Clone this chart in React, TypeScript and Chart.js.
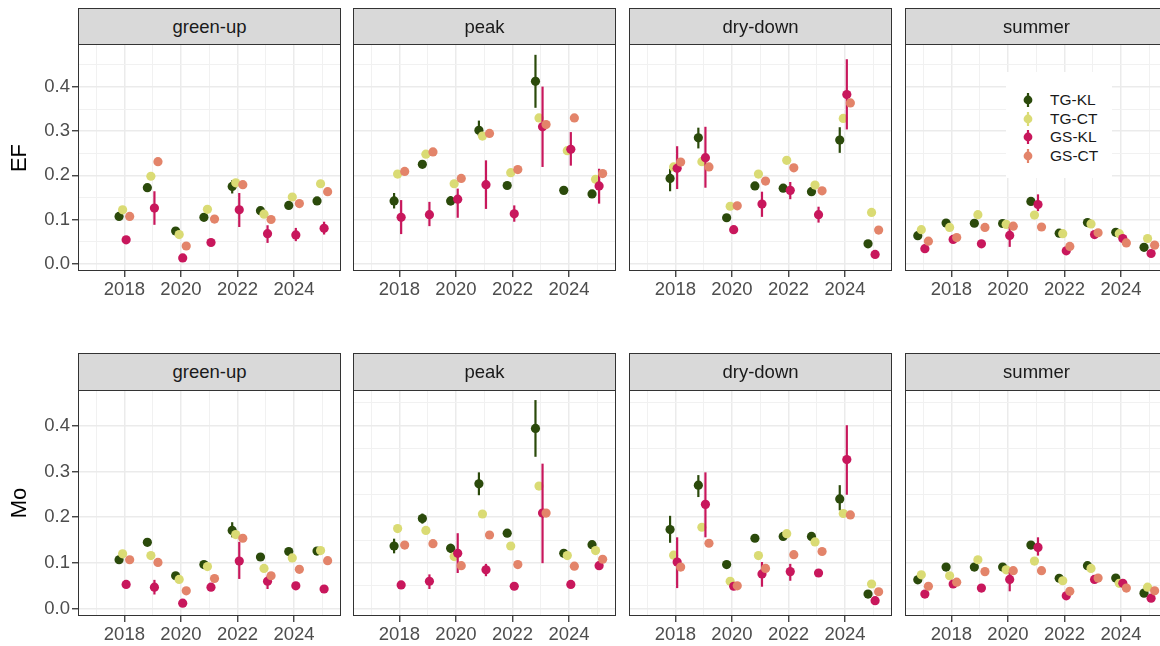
import React, { useEffect, useRef } from "react";
import { Chart, registerables } from "chart.js";

Chart.register(...registerables);

const N = null;

// ---- categories / labels ----
const YEARS = [2017, 2018, 2019, 2020, 2021, 2022, 2023, 2024, 2025];
const X_MAJOR = [2018, 2020, 2022, 2024];
const Y_TICKS = [0, 0.05, 0.1, 0.15, 0.2, 0.25, 0.3, 0.35, 0.4, 0.45];
const Y_MAJOR = [0, 0.1, 0.2, 0.3, 0.4];
const SERIES = ["TG-KL", "TG-CT", "GS-KL", "GS-CT"];
const COLORS = ["#2b4a0b", "#dadb74", "#c8175c", "#e3846a"];
const PHASES = ["green-up", "peak", "dry-down", "summer"];
const METRICS = ["EF", "Mo"];

// ---- EF values (rows: TG-KL, TG-CT, GS-KL, GS-CT; cols: YEARS) ----
const EF_GREENUP = [
  [N, 0.107, 0.172, 0.074, 0.105, 0.175, 0.12, 0.132, 0.142],
  [N, 0.122, 0.198, 0.066, 0.123, 0.183, 0.112, 0.151, 0.181],
  [N, 0.054, 0.126, 0.013, 0.048, 0.122, 0.068, 0.065, 0.08],
  [N, 0.107, 0.231, 0.04, 0.101, 0.179, 0.1, 0.136, 0.163],
];
const EF_GREENUP_LO = [
  [N, N, N, N, N, 0.159, N, N, N],
  [N, N, N, N, N, N, N, N, N],
  [N, N, 0.088, N, N, 0.083, 0.047, 0.051, 0.066],
  [N, N, N, N, N, N, N, N, N],
];
const EF_GREENUP_HI = [
  [N, N, N, N, N, 0.189, N, N, N],
  [N, N, N, N, N, N, N, N, N],
  [N, N, 0.164, N, N, 0.16, 0.087, 0.081, 0.095],
  [N, N, N, N, N, N, N, N, N],
];

const EF_PEAK = [
  [N, 0.142, 0.225, 0.142, 0.302, 0.177, 0.413, 0.166, 0.158],
  [N, 0.203, 0.248, 0.181, 0.289, 0.206, 0.33, 0.256, 0.191],
  [N, 0.105, 0.111, 0.146, 0.179, 0.113, 0.31, 0.259, 0.176],
  [N, 0.209, 0.253, 0.193, 0.295, 0.213, 0.315, 0.33, 0.204],
];
const EF_PEAK_LO = [
  [N, 0.125, N, 0.132, 0.289, N, 0.353, N, N],
  [N, N, N, N, N, N, N, N, N],
  [N, 0.067, 0.085, 0.104, 0.124, 0.095, 0.219, 0.222, 0.136],
  [N, N, N, N, N, N, N, N, N],
];
const EF_PEAK_HI = [
  [N, 0.16, N, 0.153, 0.324, N, 0.473, N, N],
  [N, N, N, N, N, N, N, N, N],
  [N, 0.144, 0.14, 0.17, 0.234, 0.132, 0.401, 0.298, 0.215],
  [N, N, N, N, N, N, N, N, N],
];

const EF_DRYDOWN = [
  [N, 0.193, 0.285, 0.104, 0.176, 0.171, 0.163, 0.28, 0.045],
  [N, 0.219, 0.231, 0.13, 0.203, 0.234, 0.178, 0.329, 0.116],
  [N, 0.216, 0.24, 0.077, 0.135, 0.166, 0.111, 0.383, 0.021],
  [N, 0.23, 0.219, 0.131, 0.187, 0.217, 0.165, 0.364, 0.076],
];
const EF_DRYDOWN_LO = [
  [N, 0.164, 0.261, N, N, N, N, 0.251, N],
  [N, N, N, N, N, N, N, N, N],
  [N, 0.169, 0.172, N, 0.106, 0.146, 0.093, 0.304, N],
  [N, N, N, N, N, N, N, N, N],
];
const EF_DRYDOWN_HI = [
  [N, 0.215, 0.308, N, N, N, N, 0.309, N],
  [N, N, N, N, N, N, N, N, N],
  [N, 0.266, 0.31, N, 0.163, 0.185, 0.129, 0.463, N],
  [N, N, N, N, N, N, N, N, N],
];

const EF_SUMMER = [
  [0.0635, 0.092, 0.0915, 0.091, 0.141, 0.069, 0.093, 0.071, 0.037],
  [0.077, 0.082, 0.111, 0.089, 0.11, 0.068, 0.09, 0.068, 0.057],
  [0.034, 0.055, 0.045, 0.064, 0.134, 0.029, 0.066, 0.057, 0.023],
  [0.051, 0.059, 0.082, 0.085, 0.083, 0.039, 0.07, 0.047, 0.042],
];
const EF_SUMMER_LO = [
  [N, N, N, N, N, N, N, N, N],
  [N, N, N, N, N, N, N, N, N],
  [N, N, N, 0.038, 0.119, N, N, N, N],
  [N, N, N, N, N, N, N, N, N],
];
const EF_SUMMER_HI = [
  [N, N, N, N, N, N, N, N, N],
  [N, N, N, N, N, N, N, N, N],
  [N, N, N, 0.083, 0.157, N, N, N, N],
  [N, N, N, N, N, N, N, N, N],
];

// ---- Mo values ----
const MO_GREENUP = [
  [N, 0.107, 0.145, 0.072, 0.0965, 0.171, 0.113, 0.125, 0.126],
  [N, 0.12, 0.116, 0.064, 0.092, 0.162, 0.088, 0.111, 0.127],
  [N, 0.053, 0.047, 0.012, 0.047, 0.104, 0.06, 0.05, 0.043],
  [N, 0.107, 0.101, 0.039, 0.066, 0.154, 0.072, 0.086, 0.105],
];
const MO_GREENUP_LO = [
  [N, N, 0.137, N, N, 0.156, N, N, N],
  [N, N, N, N, N, N, N, N, N],
  [N, N, 0.031, N, N, 0.065, 0.043, N, N],
  [N, N, N, N, N, N, N, N, N],
];
const MO_GREENUP_HI = [
  [N, N, 0.153, N, N, 0.189, N, N, N],
  [N, N, N, N, N, N, N, N, N],
  [N, N, 0.063, N, N, 0.146, 0.072, N, N],
  [N, N, N, N, N, N, N, N, N],
];

const MO_PEAK = [
  [N, 0.137, 0.197, 0.132, 0.273, 0.165, 0.394, 0.121, 0.14],
  [N, 0.175, 0.171, 0.114, 0.207, 0.137, 0.268, 0.116, 0.127],
  [N, 0.052, 0.06, 0.121, 0.085, 0.049, 0.209, 0.053, 0.094],
  [N, 0.139, 0.142, 0.094, 0.161, 0.0965, 0.209, 0.093, 0.108],
];
const MO_PEAK_LO = [
  [N, 0.121, 0.186, 0.122, 0.248, N, 0.332, N, N],
  [N, N, N, N, N, N, N, N, N],
  [N, N, 0.043, 0.078, 0.071, N, 0.0995, N, 0.085],
  [N, N, N, N, N, N, N, N, N],
];
const MO_PEAK_HI = [
  [N, 0.153, 0.208, 0.142, 0.298, N, 0.456, N, N],
  [N, N, N, N, N, N, N, N, N],
  [N, N, 0.075, 0.165, 0.098, N, 0.317, N, 0.103],
  [N, N, N, N, N, N, N, N, N],
];

const MO_DRYDOWN = [
  [N, 0.173, 0.27, 0.0965, 0.154, 0.158, 0.158, 0.24, 0.032],
  [N, 0.117, 0.178, 0.06, 0.116, 0.164, 0.146, 0.208, 0.054],
  [N, 0.102, 0.228, 0.049, 0.076, 0.081, 0.078, 0.326, 0.0175],
  [N, 0.091, 0.143, 0.05, 0.088, 0.118, 0.125, 0.205, 0.037],
];
const MO_DRYDOWN_LO = [
  [N, 0.144, 0.244, N, N, N, N, 0.215, N],
  [N, N, N, N, N, N, N, N, N],
  [N, 0.045, 0.156, N, 0.048, 0.061, N, 0.249, N],
  [N, N, N, N, N, N, N, N, N],
];
const MO_DRYDOWN_HI = [
  [N, 0.203, 0.292, N, N, N, N, 0.27, N],
  [N, N, N, N, N, N, N, N, N],
  [N, 0.156, 0.298, N, 0.102, 0.098, N, 0.401, N],
  [N, N, N, N, N, N, N, N, N],
];

const MO_SUMMER = [
  [0.063, 0.091, 0.091, 0.091, 0.139, 0.0665, 0.094, 0.067, 0.034],
  [0.074, 0.072, 0.107, 0.085, 0.104, 0.061, 0.088, 0.0555, 0.047],
  [0.032, 0.054, 0.045, 0.064, 0.134, 0.028, 0.064, 0.0555, 0.023],
  [0.049, 0.058, 0.081, 0.083, 0.083, 0.038, 0.067, 0.045, 0.039],
];
const MO_SUMMER_LO = [
  [N, N, N, N, N, N, N, N, N],
  [N, N, N, N, N, N, N, N, N],
  [N, N, N, 0.038, 0.116, N, N, N, N],
  [N, N, N, N, N, N, N, N, N],
];
const MO_SUMMER_HI = [
  [N, N, N, N, N, N, N, N, N],
  [N, N, N, N, N, N, N, N, N],
  [N, N, N, 0.08, 0.156, N, N, N, N],
  [N, N, N, N, N, N, N, N, N],
];

const PANEL_DATA = [
  [
    [EF_GREENUP, EF_GREENUP_LO, EF_GREENUP_HI],
    [EF_PEAK, EF_PEAK_LO, EF_PEAK_HI],
    [EF_DRYDOWN, EF_DRYDOWN_LO, EF_DRYDOWN_HI],
    [EF_SUMMER, EF_SUMMER_LO, EF_SUMMER_HI],
  ],
  [
    [MO_GREENUP, MO_GREENUP_LO, MO_GREENUP_HI],
    [MO_PEAK, MO_PEAK_LO, MO_PEAK_HI],
    [MO_DRYDOWN, MO_DRYDOWN_LO, MO_DRYDOWN_HI],
    [MO_SUMMER, MO_SUMMER_LO, MO_SUMMER_HI],
  ],
];

// ---- layout ----
const FONT = "'Liberation Sans', Arial, Helvetica, sans-serif";
const COL_X = [78, 353, 629, 905];
const PANEL_W = 263;
const ROWS = [
  { stripTop: 8, top: 44, bottom: 271, titleY: 157.5 },
  { stripTop: 353, top: 390, bottom: 616, titleY: 503 },
];
const Y_RANGE = [
  [-0.0166, 0.4975],
  [-0.016, 0.478],
];
const X_MIN = 2016.36;
const X_MAX = 2025.66;
const DODGE = [-0.1875, -0.0625, 0.0625, 0.1875];
const X_AXIS_H = 40;
const Y_AXIS_W = 78;
const TICK_FONT = 18.5;

const isMajorY = (v: number) => Y_MAJOR.some((m) => Math.abs(m - v) < 1e-6);

const zeroPad = (s: any) => {
  s.paddingTop = 0;
  s.paddingBottom = 0;
  s.paddingLeft = 0;
  s.paddingRight = 0;
};

const errorBarPlugin = {
  id: "errbars",
  beforeDatasetDraw(chart: any, args: any) {
    const ds = chart.data.datasets[args.index];
    const xs = chart.scales.x;
    const ys = chart.scales.y;
    const ctx = chart.ctx;
    ctx.save();
    ctx.strokeStyle = ds.backgroundColor;
    ctx.lineWidth = 2.2;
    ds.data.forEach((d: any) => {
      if (d.lo == null || d.hi == null) return;
      const px = xs.getPixelForValue(d.x);
      ctx.beginPath();
      ctx.moveTo(px, ys.getPixelForValue(d.lo));
      ctx.lineTo(px, ys.getPixelForValue(d.hi));
      ctx.stroke();
    });
    ctx.restore();
  },
};

const borderPlugin = {
  id: "panelBorder",
  afterDraw(chart: any) {
    const a = chart.chartArea;
    const ctx = chart.ctx;
    ctx.save();
    ctx.strokeStyle = "#333333";
    ctx.lineWidth = 1;
    ctx.strokeRect(a.left + 0.5, a.top + 0.5, a.right - a.left - 1, a.bottom - a.top - 1);
    ctx.restore();
  },
};

function Panel({ row, col }: { row: number; col: number }) {
  const ref = useRef<HTMLCanvasElement | null>(null);
  const yW = col === 0 ? Y_AXIS_W : 0;
  const left = COL_X[col] - yW;
  const top = ROWS[row].top;
  const h = ROWS[row].bottom - ROWS[row].top;
  const cw = PANEL_W + yW;
  const ch = h + X_AXIS_H;

  useEffect(() => {
    const [vals, lo, hi] = PANEL_DATA[row][col];
    const datasets = SERIES.map((name, si) => ({
      type: "scatter" as const,
      label: name,
      data: YEARS.map((yr, i) =>
        vals[si][i] == null
          ? null
          : { x: yr + DODGE[si], y: vals[si][i], lo: lo[si][i], hi: hi[si][i] }
      ).filter((d) => d !== null),
      backgroundColor: COLORS[si],
      pointBackgroundColor: COLORS[si],
      borderWidth: 0,
      pointBorderWidth: 0,
      pointRadius: 4.6,
      order: SERIES.length - si,
      clip: false,
    }));

    const chart = new Chart(ref.current as HTMLCanvasElement, {
      type: "scatter",
      data: { datasets: datasets as any },
      plugins: [errorBarPlugin, borderPlugin],
      options: {
        animation: false,
        responsive: false,
        devicePixelRatio: 1,
        events: [],
        layout: { padding: 0, autoPadding: false },
        plugins: { legend: { display: false }, tooltip: { enabled: false } },
        scales: {
          x: {
            type: "linear",
            position: "bottom",
            min: X_MIN,
            max: X_MAX,
            afterBuildTicks: (s: any) => {
              s.ticks = YEARS.map((v) => ({ value: v }));
            },
            afterFit: (s: any) => {
              s.height = X_AXIS_H;
              zeroPad(s);
            },
            border: { display: false },
            grid: {
              color: (c: any) => (X_MAJOR.includes(c.tick?.value) ? "#ebebeb" : "#f1f1f1"),
              lineWidth: (c: any) => (X_MAJOR.includes(c.tick?.value) ? 1.5 : 1),
              tickColor: (c: any) => (X_MAJOR.includes(c.tick?.value) ? "#333333" : "rgba(0,0,0,0)"),
              tickLength: 6,
              tickWidth: 1.3,
              drawTicks: true,
            },
            ticks: {
              autoSkip: false,
              maxRotation: 0,
              padding: 2,
              color: "#4d4d4d",
              font: { family: FONT, size: TICK_FONT },
              callback: (v: any) => (X_MAJOR.includes(Number(v)) ? String(v) : ""),
            },
          },
          y: {
            type: "linear",
            min: Y_RANGE[row][0],
            max: Y_RANGE[row][1],
            afterBuildTicks: (s: any) => {
              s.ticks = Y_TICKS.map((v) => ({ value: v }));
            },
            afterFit: (s: any) => {
              s.width = yW;
              zeroPad(s);
            },
            border: { display: false },
            grid: {
              color: (c: any) => (isMajorY(c.tick?.value ?? -1) ? "#ebebeb" : "#f1f1f1"),
              lineWidth: (c: any) => (isMajorY(c.tick?.value ?? -1) ? 1.5 : 1),
              tickColor: (c: any) =>
                col === 0 && isMajorY(c.tick?.value ?? -1) ? "#333333" : "rgba(0,0,0,0)",
              tickLength: 6,
              tickWidth: 1.3,
              drawTicks: col === 0,
            },
            ticks: {
              display: col === 0,
              padding: 2,
              color: "#4d4d4d",
              font: { family: FONT, size: TICK_FONT },
              callback: (v: any) => (isMajorY(Number(v)) ? Number(v).toFixed(1) : ""),
            },
          },
        },
      } as any,
    });
    return () => chart.destroy();
  }, [row, col]);

  return (
    <canvas
      ref={ref}
      width={cw}
      height={ch}
      style={{ position: "absolute", left, top, width: cw, height: ch }}
    />
  );
}

function Strip({ row, col }: { row: number; col: number }) {
  const r = ROWS[row];
  return (
    <div
      style={{
        position: "absolute",
        left: COL_X[col],
        top: r.stripTop,
        width: PANEL_W,
        height: r.top - r.stripTop + 1,
        boxSizing: "border-box",
        border: "1px solid #333333",
        background: "#d9d9d9",
        color: "#1a1a1a",
        fontSize: TICK_FONT,
        fontFamily: FONT,
        display: "flex",
        alignItems: "center",
        justifyContent: "center",
      }}
    >
      {PHASES[col]}
    </div>
  );
}

function LegendGlyph({ color }: { color: string }) {
  return (
    <svg width={16} height={16} style={{ position: "absolute", left: 1020, top: -8 }}>
      <line x1={8} y1={1} x2={8} y2={15} stroke={color} strokeWidth={2.2} />
      <circle cx={8} cy={8} r={4.4} fill={color} />
    </svg>
  );
}

export default function App() {
  const panels = [];
  const strips = [];
  for (let r = 0; r < 2; r++) {
    for (let c = 0; c < 4; c++) {
      panels.push(<Panel key={`p${r}${c}`} row={r} col={c} />);
      strips.push(<Strip key={`s${r}${c}`} row={r} col={c} />);
    }
  }
  const legendRows = [100, 118.5, 137, 155.5];
  return (
    <div
      style={{
        position: "absolute",
        left: 0,
        top: 0,
        width: 1160,
        height: 646,
        overflow: "hidden",
        background: "#ffffff",
        fontFamily: FONT,
      }}
    >
      {panels}
      {strips}
      {METRICS.map((m, r) => (
        <div
          key={m}
          style={{
            position: "absolute",
            left: 19,
            top: ROWS[r].titleY,
            transform: "translate(-50%, -50%) rotate(-90deg)",
            fontSize: 22,
            color: "#000000",
            whiteSpace: "nowrap",
            lineHeight: 1,
          }}
        >
          {m}
        </div>
      ))}
      <div
        style={{
          position: "absolute",
          left: 1006,
          top: 72,
          width: 106,
          height: 106,
          background: "#ffffff",
        }}
      />
      {SERIES.map((s, i) => (
        <div key={s} style={{ position: "absolute", left: 0, top: legendRows[i], width: 1160, height: 0 }}>
          <LegendGlyph color={COLORS[i]} />
          <div
            style={{
              position: "absolute",
              left: 1050,
              top: -10,
              height: 20,
              lineHeight: "20px",
              fontSize: 15.5,
              color: "#1a1a1a",
              whiteSpace: "nowrap",
            }}
          >
            {s}
          </div>
        </div>
      ))}
    </div>
  );
}
